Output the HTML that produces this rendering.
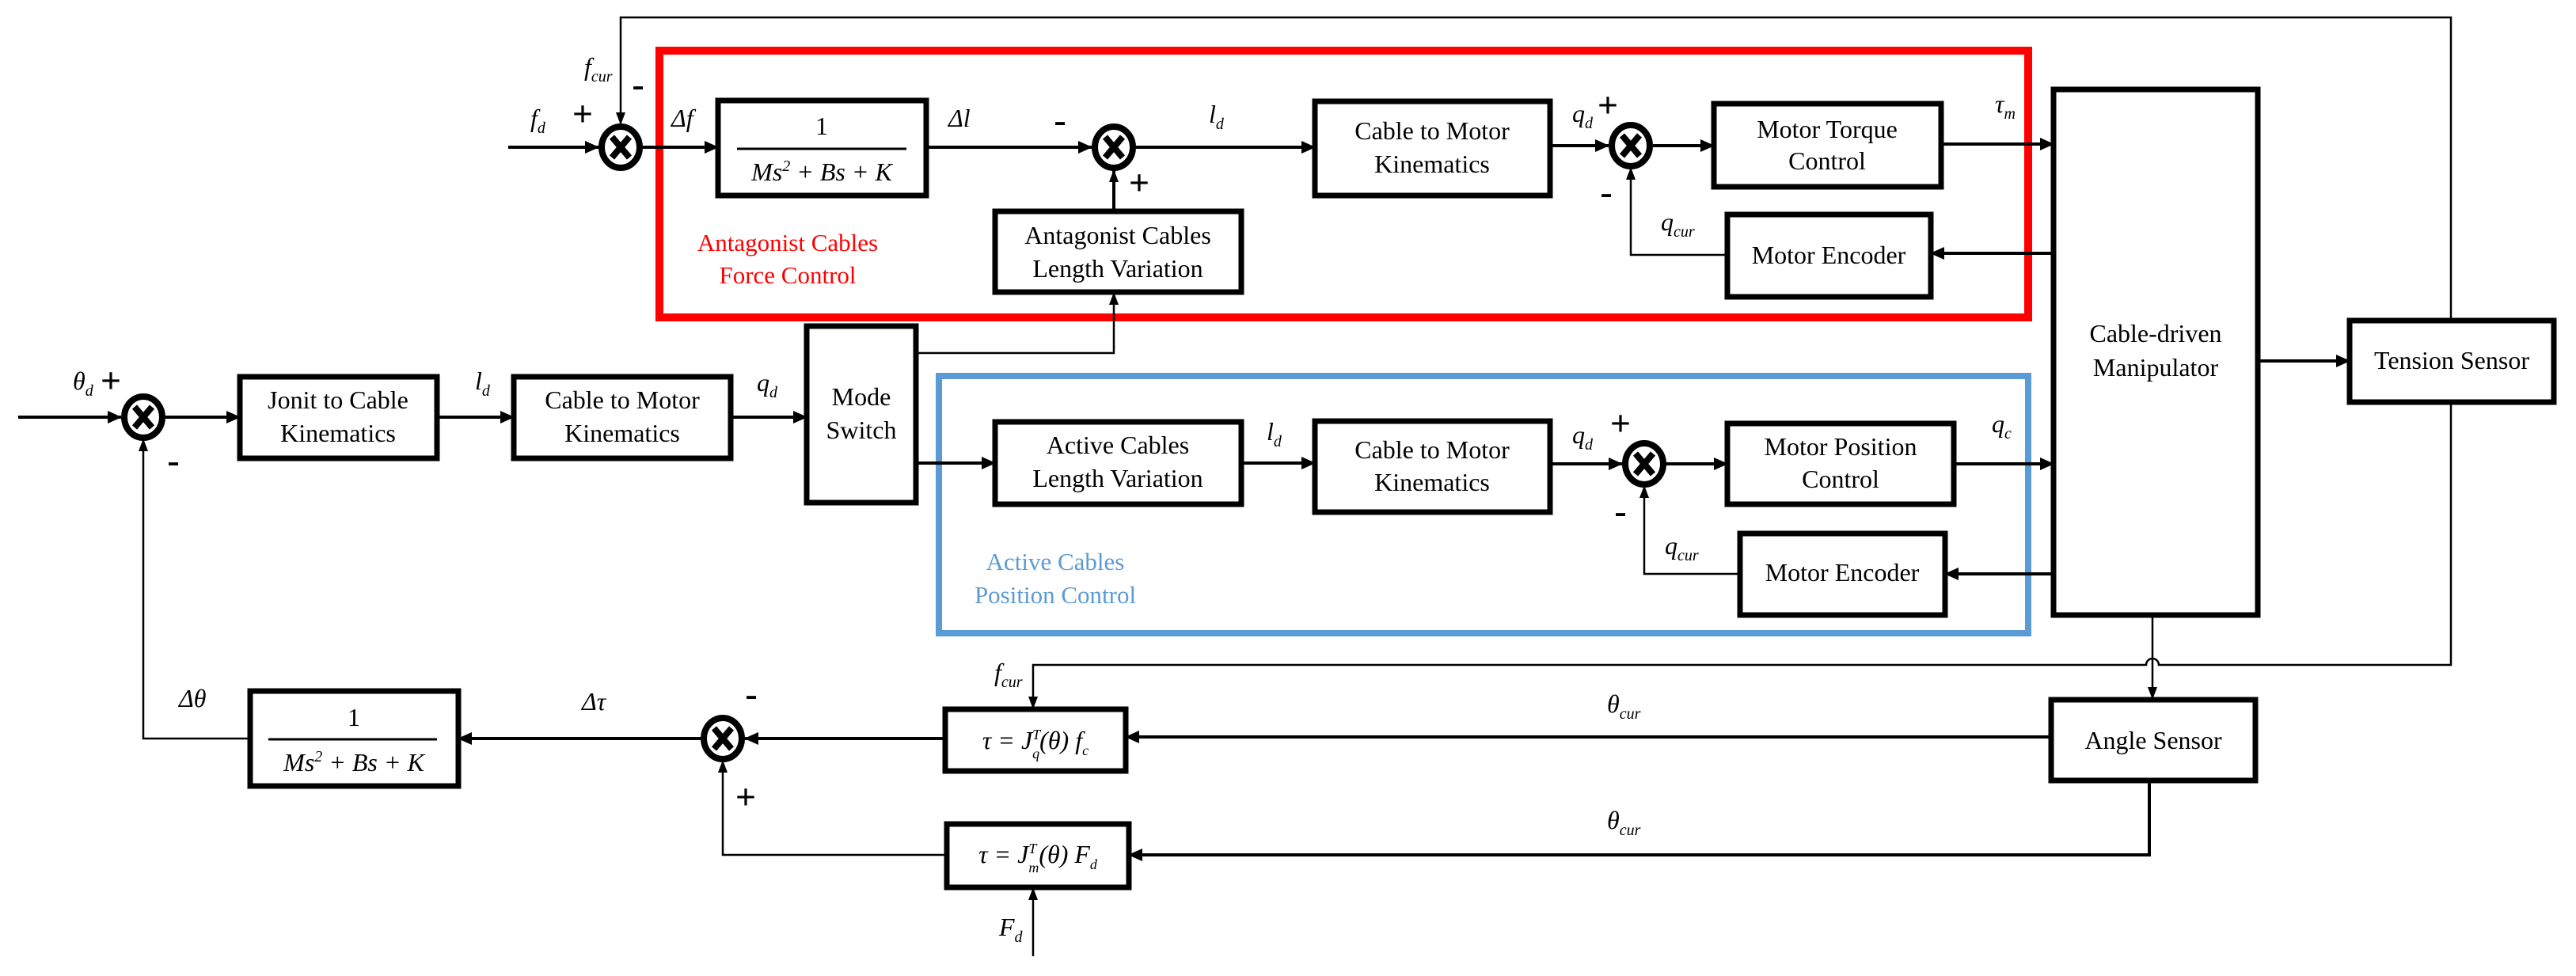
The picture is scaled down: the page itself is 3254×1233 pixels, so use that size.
<!DOCTYPE html>
<html><head><meta charset="utf-8"><style>
html,body{margin:0;padding:0;background:#fff;}
svg{display:block;}
svg text{font-family:"Liberation Serif","Times New Roman",serif;}
.bt{font-family:"Liberation Serif",serif;font-size:32px;text-anchor:middle;fill:#000;}
.it{font-family:"Liberation Serif",serif;font-size:32px;font-style:italic;fill:#000;}
.sub{font-size:20px;font-style:italic;}
.sg{font-family:"Liberation Sans",sans-serif;font-weight:bold;font-size:46px;text-anchor:middle;}
</style></head><body>
<svg width="3254" height="1233" viewBox="0 0 3254 1233" xmlns="http://www.w3.org/2000/svg" font-family="Liberation Serif, serif">
<defs>
<marker id="a" markerWidth="18" markerHeight="16" refX="17" refY="8" orient="auto" markerUnits="userSpaceOnUse"><path d="M0,0 L18,8 L0,16 Z" fill="#000"/></marker>
<marker id="as" markerWidth="16" markerHeight="12" refX="15" refY="6" orient="auto" markerUnits="userSpaceOnUse"><path d="M0,0 L16,6 L0,12 Z" fill="#000"/></marker>
<g id="sum"><ellipse cx="0" cy="0" rx="24" ry="26" fill="#fff" stroke="#000" stroke-width="8"/><path d="M-11,-13 L11,13 M11,-13 L-11,13" stroke="#000" stroke-width="8"/></g>
</defs>

<rect x="833" y="64" width="1729" height="337" fill="none" stroke="#ff0000" stroke-width="10"/>
<rect x="1186" y="475" width="1376" height="325" fill="none" stroke="#5b9bd5" stroke-width="8"/>

<g fill="none" stroke="#000">
<g stroke-width="4">
<line x1="642" y1="186" x2="756" y2="186" marker-end="url(#a)"/>
<line x1="812" y1="186" x2="907" y2="186" marker-end="url(#a)"/>
<line x1="1170" y1="186" x2="1379" y2="186" marker-end="url(#a)"/>
<line x1="1435" y1="186" x2="1661" y2="186" marker-end="url(#a)"/>
<line x1="1958" y1="184" x2="2032" y2="184" marker-end="url(#a)"/>
<line x1="2088" y1="184" x2="2165" y2="184" marker-end="url(#a)"/>
<line x1="2452" y1="182" x2="2594" y2="182" marker-end="url(#a)"/>
<line x1="2594" y1="320" x2="2439" y2="320" marker-end="url(#a)"/>
<line x1="1407" y1="266" x2="1407" y2="215" marker-end="url(#as)"/>
<line x1="23" y1="527" x2="153" y2="527" marker-end="url(#a)"/>
<line x1="209" y1="527" x2="303" y2="527" marker-end="url(#a)"/>
<line x1="552" y1="527" x2="649" y2="527" marker-end="url(#a)"/>
<line x1="923" y1="527" x2="1019" y2="527" marker-end="url(#a)"/>
<line x1="1157" y1="585" x2="1257" y2="585" marker-end="url(#a)"/>
<line x1="1568" y1="585" x2="1661" y2="585" marker-end="url(#a)"/>
<line x1="1958" y1="586" x2="2049" y2="586" marker-end="url(#a)"/>
<line x1="2105" y1="586" x2="2182" y2="586" marker-end="url(#a)"/>
<line x1="2468" y1="586" x2="2594" y2="586" marker-end="url(#a)"/>
<line x1="2594" y1="725" x2="2457" y2="725" marker-end="url(#a)"/>
<line x1="2852" y1="456" x2="2968" y2="456" marker-end="url(#a)"/>
<line x1="2591" y1="931" x2="1422" y2="931" marker-end="url(#a)"/>
<line x1="1194" y1="933" x2="941" y2="933" marker-end="url(#a)"/>
<line x1="885" y1="933" x2="579" y2="933" marker-end="url(#a)"/>
<polyline points="2715,987 2715,1080 1426,1080" marker-end="url(#a)"/>
</g>
<g stroke-width="2.5">
<polyline points="3096,404 3096,22 784,22 784,157" marker-end="url(#as)"/>
<polyline points="2182,322 2060,322 2060,212" marker-end="url(#as)"/>
<polyline points="1157,446 1407,446 1407,370" marker-end="url(#as)"/>
<polyline points="2198,725 2077,725 2077,614" marker-end="url(#as)"/>
<polyline points="316,933 181,933 181,555" marker-end="url(#as)"/>
<polyline points="1196,1080 913,1080 913,961" marker-end="url(#as)"/>
<line x1="1305" y1="1208" x2="1305" y2="1122" marker-end="url(#as)"/>
<line x1="2719" y1="778" x2="2719" y2="883" marker-end="url(#as)"/>
<path d="M3096,509 L3096,840 L2727,840 A8,8 0 0 0 2711,840 L1305,840 L1305,895" marker-end="url(#as)"/>
</g>
</g>

<use href="#sum" x="784" y="186"/>
<use href="#sum" x="1407" y="186"/>
<use href="#sum" x="2060" y="184"/>
<use href="#sum" x="181" y="527"/>
<use href="#sum" x="2077" y="586"/>
<use href="#sum" x="913" y="933"/>

<g fill="#fff" stroke="#000" stroke-width="7">
<rect x="907" y="127" width="263" height="120"/>
<rect x="1661" y="128" width="297" height="119"/>
<rect x="2165" y="131" width="287" height="105"/>
<rect x="2182" y="271" width="257" height="104"/>
<rect x="1257" y="267" width="311" height="102"/>
<rect x="2594" y="113" width="258" height="664"/>
<rect x="2968" y="405" width="258" height="103"/>
<rect x="303" y="476" width="249" height="103"/>
<rect x="649" y="476" width="274" height="103"/>
<rect x="1019" y="412" width="138" height="223"/>
<rect x="1257" y="533" width="311" height="104"/>
<rect x="1661" y="532" width="297" height="115"/>
<rect x="2182" y="535" width="286" height="102"/>
<rect x="2198" y="674" width="259" height="103"/>
<rect x="2591" y="884" width="258" height="102"/>
<rect x="316" y="873" width="263" height="120"/>
<rect x="1194" y="896" width="228" height="78"/>
<rect x="1196" y="1041" width="230" height="80"/>
</g>

<g class="bt" font-family="Liberation Serif, serif">
<text x="1038" y="170">1</text>
<line x1="931" y1="188" x2="1145" y2="188" stroke="#000" stroke-width="3"/>
<text x="1038" y="228" font-style="italic">Ms<tspan font-size="20" dy="-12">2</tspan><tspan dy="12"> + Bs + K</tspan></text>
<text x="1809" y="176">Cable to Motor</text><text x="1809" y="218">Kinematics</text>
<text x="2308" y="174">Motor Torque</text><text x="2308" y="214">Control</text>
<text x="2310" y="333">Motor Encoder</text>
<text x="1412" y="308">Antagonist  Cables</text><text x="1412" y="350">Length Variation</text>
<text x="2723" y="432">Cable-driven</text><text x="2723" y="475">Manipulator</text>
<text x="3097" y="466">Tension Sensor</text>
<text x="427" y="516">Jonit to Cable</text><text x="427" y="558">Kinematics</text>
<text x="786" y="516">Cable to Motor</text><text x="786" y="558">Kinematics</text>
<text x="1088" y="512">Mode</text><text x="1088" y="554">Switch</text>
<text x="1412" y="573">Active  Cables</text><text x="1412" y="615">Length Variation</text>
<text x="1809" y="579">Cable to Motor</text><text x="1809" y="620">Kinematics</text>
<text x="2325" y="575">Motor Position</text><text x="2325" y="616">Control</text>
<text x="2327" y="734">Motor Encoder</text>
<text x="2720" y="946">Angle Sensor</text>
<text x="447" y="917">1</text>
<line x1="339" y1="934" x2="552" y2="934" stroke="#000" stroke-width="3"/>
<text x="447" y="974" font-style="italic">Ms<tspan font-size="20" dy="-12">2</tspan><tspan dy="12"> + Bs + K</tspan></text>
<text x="1308" y="946" font-style="italic">τ = J<tspan font-size="18" dy="-12">T</tspan><tspan font-size="18" dx="-10" dy="24">q</tspan><tspan dy="-12">(θ) f</tspan><tspan font-size="18" dy="8">c</tspan></text>
<text x="1311" y="1090" font-style="italic">τ = J<tspan font-size="18" dy="-12">T</tspan><tspan font-size="18" dx="-10" dy="24">m</tspan><tspan dy="-12">(θ) F</tspan><tspan font-size="18" dy="8">d</tspan></text>
</g>

<g font-size="31" text-anchor="middle" font-family="Liberation Serif, serif">
<text x="995" y="317" fill="#ff0000">Antagonist  Cables</text>
<text x="995" y="358" fill="#ff0000">Force Control</text>
<text x="1333" y="720" fill="#5b9bd5">Active  Cables</text>
<text x="1333" y="762" fill="#5b9bd5">Position Control</text>
</g>

<g class="it" font-family="Liberation Serif, serif">
<text x="738" y="95">f<tspan class="sub" dy="8">cur</tspan></text>
<text x="670" y="160">f<tspan class="sub" dy="8">d</tspan></text>
<text x="848" y="160">Δf</text>
<text x="1198" y="160">Δl</text>
<text x="1527" y="155">l<tspan class="sub" dy="8">d</tspan></text>
<text x="1986" y="154">q<tspan class="sub" dy="8">d</tspan></text>
<text x="2520" y="142">τ<tspan class="sub" dy="8">m</tspan></text>
<text x="2098" y="291">q<tspan class="sub" dy="8">cur</tspan></text>
<text x="92" y="492">θ<tspan class="sub" dy="8">d</tspan></text>
<text x="600" y="492">l<tspan class="sub" dy="8">d</tspan></text>
<text x="956" y="494">q<tspan class="sub" dy="8">d</tspan></text>
<text x="1600" y="556">l<tspan class="sub" dy="8">d</tspan></text>
<text x="1986" y="560">q<tspan class="sub" dy="8">d</tspan></text>
<text x="2516" y="546">q<tspan class="sub" dy="8">c</tspan></text>
<text x="2103" y="700">q<tspan class="sub" dy="8">cur</tspan></text>
<text x="226" y="893">Δθ</text>
<text x="735" y="897">Δτ</text>
<text x="1256" y="860">f<tspan class="sub" dy="8">cur</tspan></text>
<text x="2030" y="900">θ<tspan class="sub" dy="8">cur</tspan></text>
<text x="2030" y="1047">θ<tspan class="sub" dy="8">cur</tspan></text>
<text x="1262" y="1182">F<tspan class="sub" dy="8">d</tspan></text>
</g>

<g class="sg" font-family="Liberation Sans, sans-serif">
<text x="736" y="159">+</text>
<text x="806" y="122">-</text>
<text x="1339" y="167">-</text>
<text x="1439" y="246">+</text>
<text x="2031" y="148">+</text>
<text x="2029" y="258">-</text>
<text x="140" y="496">+</text>
<text x="219" y="597">-</text>
<text x="2047" y="550">+</text>
<text x="2047" y="661">-</text>
<text x="949" y="892">-</text>
<text x="942" y="1022">+</text>
</g>
</svg>
</body></html>
